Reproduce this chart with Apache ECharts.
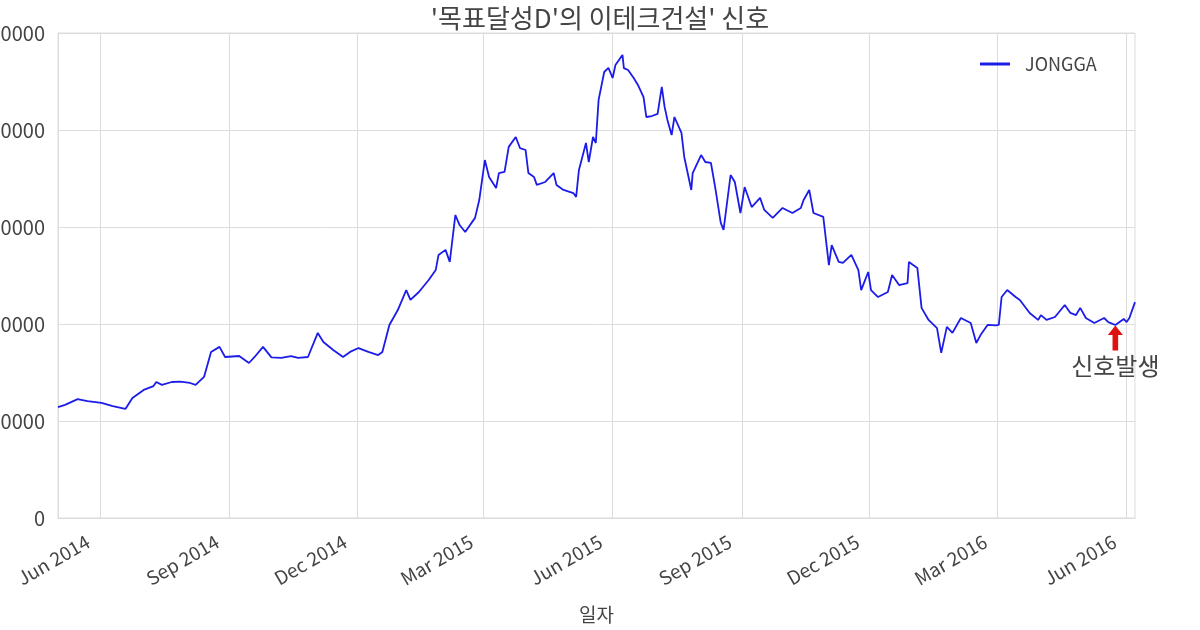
<!DOCTYPE html>
<html>
<head>
<meta charset="utf-8">
<script src="https://cdn.jsdelivr.net/npm/echarts@6/dist/echarts.min.js"></script>
<style>
  html, body { margin: 0; padding: 0; background: #fff; }
  #chart { width: 1200px; height: 630px; }
</style>
</head>
<body>
<div id="chart"></div>
<script>
// 일자 (거래일)
var dates = [
  '2014-05-02','2014-05-07','2014-05-16','2014-05-23','2014-06-02','2014-06-10','2014-06-19','2014-06-24',
  '2014-07-02','2014-07-09','2014-07-11','2014-07-15','2014-07-22','2014-07-28','2014-08-04','2014-08-08',
  '2014-08-14','2014-08-19','2014-08-25','2014-08-29','2014-09-08','2014-09-15','2014-09-19','2014-09-25',
  '2014-10-01','2014-10-08','2014-10-15','2014-10-20','2014-10-27','2014-11-03','2014-11-07','2014-11-14',
  '2014-11-21','2014-11-26','2014-12-02','2014-12-09','2014-12-16','2014-12-19','2014-12-24','2014-12-30',
  '2015-01-05','2015-01-08','2015-01-14','2015-01-21','2015-01-26','2015-01-28','2015-02-02','2015-02-05',
  '2015-02-09','2015-02-12','2015-02-16','2015-02-23','2015-02-26','2015-03-02','2015-03-05','2015-03-10',
  '2015-03-12','2015-03-16','2015-03-19','2015-03-24','2015-03-27','2015-03-31','2015-04-02','2015-04-06',
  '2015-04-08','2015-04-14','2015-04-20','2015-04-22','2015-04-27','2015-05-04','2015-05-06','2015-05-08',
  '2015-05-13','2015-05-15','2015-05-18','2015-05-20','2015-05-22','2015-05-26','2015-05-29','2015-06-01',
  '2015-06-03','2015-06-08','2015-06-09','2015-06-12','2015-06-16','2015-06-19','2015-06-23','2015-06-25',
  '2015-06-29','2015-07-03','2015-07-06','2015-07-08','2015-07-10','2015-07-13','2015-07-15','2015-07-20',
  '2015-07-22','2015-07-27','2015-07-28','2015-08-03','2015-08-06','2015-08-10','2015-08-13','2015-08-17',
  '2015-08-19','2015-08-24','2015-08-27','2015-08-31','2015-09-03','2015-09-08','2015-09-14','2015-09-17',
  '2015-09-23','2015-09-30','2015-10-07','2015-10-13','2015-10-15','2015-10-19','2015-10-22','2015-10-29',
  '2015-11-02','2015-11-04','2015-11-09','2015-11-12','2015-11-18','2015-11-23','2015-11-25','2015-11-30',
  '2015-12-02','2015-12-07','2015-12-14','2015-12-17','2015-12-22','2015-12-28','2015-12-29','2016-01-04',
  '2016-01-07','2016-01-12','2016-01-18','2016-01-21','2016-01-25','2016-01-29','2016-02-04','2016-02-11',
  '2016-02-15','2016-02-18','2016-02-23','2016-02-29','2016-03-02','2016-03-04','2016-03-08','2016-03-14',
  '2016-03-17','2016-03-24','2016-03-30','2016-04-01','2016-04-05','2016-04-11','2016-04-18','2016-04-22',
  '2016-04-26','2016-04-29','2016-05-03','2016-05-09','2016-05-16','2016-05-19','2016-05-24','2016-05-30',
  '2016-06-01','2016-06-03','2016-06-07'
];
// 종가
var jongga = [
  57200, 58300, 61300, 60300, 59300, 57700, 56200, 61900,
  66000, 68000, 70100, 68600, 70100, 70300, 69600, 68600,
  72700, 85600, 88200, 83000, 83500, 79900, 83000, 88200,
  82800, 82500, 83500, 82500, 83000, 95400, 90700, 86600,
  83000, 85600, 87600, 85600, 84000, 85600, 99500, 107200,
  117500, 112400, 116500, 122700, 127800, 135600, 138200, 132000,
  156200, 151000, 147400, 154700, 163900, 184500, 175800, 170100,
  177800, 178400, 191300, 196400, 190700, 189700, 177800, 175800,
  171700, 173200, 177800, 171700, 169100, 167500, 165500, 179400,
  193300, 183500, 196400, 193300, 215500, 229900, 232000, 226800,
  233500, 238700, 231900, 230900, 226800, 223200, 217000, 206700,
  207200, 208300, 222200, 211900, 205200, 197400, 206700, 198500,
  186100, 169100, 177800, 187100, 183500, 183000, 170600, 152100,
  148500, 176800, 173200, 157200, 170600, 160300, 165000, 158800,
  154700, 159800, 157200, 159800, 163900, 169100, 157200, 155200,
  130400, 140700, 132000, 131500, 135600, 127800, 117500, 126800,
  117500, 113900, 116500, 125300, 120100, 121100, 132000, 128900,
  108300, 102100, 97900, 85100, 98500, 95400, 103100, 100500,
  90200, 94300, 99500, 99300, 99500, 113900, 117500, 113900,
  112400, 105700, 102100, 104600, 102100, 103600, 109800, 105700,
  104600, 108300, 103100, 100500, 103100, 101000, 99500, 102600,
  101000, 103100, 111300
];
var tickDates = ['2014-06-01','2014-09-01','2014-12-01','2015-03-01','2015-06-01','2015-09-01','2015-12-01','2016-03-01','2016-06-01'];
var monthNames = ['Jan','Feb','Mar','Apr','May','Jun','Jul','Aug','Sep','Oct','Nov','Dec'];
var xMin = '2014-05-02';
var xMax = '2016-06-07';
var signalDate = '2016-05-24';
var signalValue = 99500;

function ts(d) { return +echarts.time.parse(d); }

var chart = echarts.init(document.getElementById('chart'));
var tickValues = tickDates.map(ts);
var seriesData = dates.map(function (d, i) { return [ts(d), jongga[i]]; });
var gridColor = '#dcdcdc';
var lineColor = '#1c1ce8';

chart.setOption({
  animation: false,
  backgroundColor: '#fff',
  textStyle: { fontFamily: 'Noto Sans CJK KR' },
  title: {
    text: "'목표달성D'의 이테크건설' 신호",
    left: 'center',
    top: 0,
    textStyle: { fontSize: 26, fontWeight: 'normal', color: '#444' }
  },
  legend: {
    left: 975,
    top: 50,
    icon: 'rect',
    itemWidth: 30,
    itemHeight: 3,
    textStyle: { fontSize: 18, color: '#444', padding: [0, 0, 0, 10] },
    data: ['JONGGA']
  },
  grid: {
    left: 58, right: 65, top: 33, bottom: 112,
    show: true, borderColor: gridColor, borderWidth: 1,
    containLabel: false,
    outerBoundsMode: 'none'
  },
  xAxis: {
    type: 'value',
    min: ts(xMin),
    max: ts(xMax),
    name: '일자',
    nameLocation: 'middle',
    nameGap: 87,
    nameTextStyle: { fontSize: 19, color: '#444' },
    axisLine: { lineStyle: { color: gridColor } },
    axisTick: { show: false, customValues: tickValues },
    splitLine: { show: true, lineStyle: { color: gridColor, width: 1 } },
    axisLabel: {
      customValues: tickValues,
      rotate: 30,
      margin: 15,
      padding: [0, 14, 0, 0],
      fontSize: 19,
      color: '#444',
      formatter: function (v) {
        var d = new Date(v);
        return monthNames[d.getMonth()] + ' ' + d.getFullYear();
      }
    }
  },
  yAxis: {
    type: 'value',
    min: 0,
    max: 250000,
    interval: 50000,
    axisLine: { show: true, lineStyle: { color: gridColor } },
    axisTick: { show: false },
    splitLine: { lineStyle: { color: gridColor, width: 1 } },
    axisLabel: {
      margin: 13, fontSize: 20, color: '#444',
      formatter: function (v) { return String(v); }
    }
  },
  series: [{
    name: 'JONGGA',
    type: 'line',
    data: seriesData,
    symbol: 'none',
    lineStyle: { color: lineColor, width: 1.8 },
    itemStyle: { color: lineColor },
    markPoint: {
      silent: true,
      symbol: 'path://M8,0 L16,10 L11,10 L11,26 L5,26 L5,10 L0,10 Z',
      symbolSize: [15, 25],
      symbolOffset: [0, 13],
      itemStyle: { color: '#e01010' },
      label: {
        show: true,
        position: 'bottom',
        distance: 3,
        formatter: '신호발생',
        fontSize: 24,
        color: '#444'
      },
      data: [{ coord: [ts(signalDate), signalValue] }]
    }
  }]
});
</script>
</body>
</html>
